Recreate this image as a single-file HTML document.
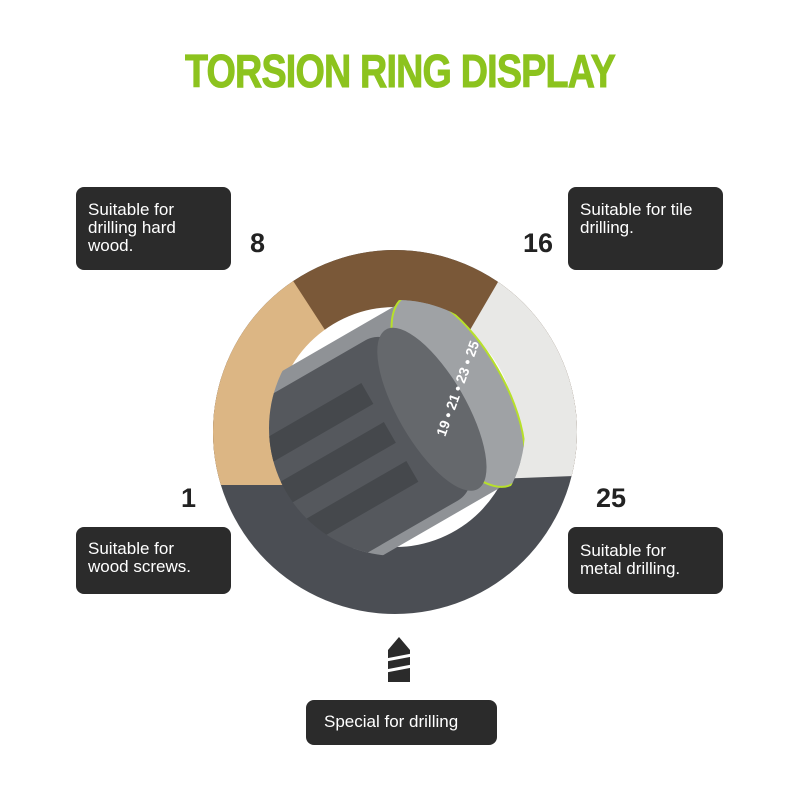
<!DOCTYPE html>
<html><head><style>
body{margin:0;width:800px;height:800px;background:#fff;position:relative;overflow:hidden;font-family:"Liberation Sans",sans-serif}
.t{position:absolute;left:0;width:800px;top:44px;text-align:center;color:#8cc31e;font-weight:bold;font-size:46px;letter-spacing:-1px;transform:scaleX(0.82);-webkit-text-stroke:1px #8cc31e}
.b{position:absolute;background:#2b2b2b;border-radius:8px;color:#fff;font-size:17px;line-height:18px;padding:14px 12px;box-sizing:border-box}
.n{position:absolute;font-size:27px;font-weight:bold;color:#222}
</style></head><body>
<div class="t">TORSION RING DISPLAY</div>
<div class="b" style="left:76px;top:187px;width:155px;height:83px">Suitable for<br>drilling hard<br>wood.</div>
<div class="b" style="left:568px;top:187px;width:155px;height:83px">Suitable for tile<br>drilling.</div>
<div class="b" style="left:76px;top:527px;width:155px;height:67px;padding-top:13px">Suitable for<br>wood screws.</div>
<div class="b" style="left:568px;top:527px;width:155px;height:67px;padding-top:15px">Suitable for<br>metal drilling.</div>
<div class="b" style="left:306px;top:700px;width:191px;height:45px;padding-top:13px;padding-left:18px">Special for drilling</div>
<div class="n" style="left:250px;top:228px">8</div>
<div class="n" style="left:523px;top:228px">16</div>
<div class="n" style="left:181px;top:483px">1</div>
<div class="n" style="left:596px;top:483px">25</div>
<svg width="800" height="800" style="position:absolute;left:0;top:0">
<defs><clipPath id="c"><circle cx="395" cy="432" r="182"/></clipPath>
<clipPath id="d"><circle cx="397" cy="428" r="128"/></clipPath></defs>
<g clip-path="url(#c)">
<rect x="200" y="240" width="400" height="400" fill="#4b4e54"/>
<polygon points="200,240 600,240 600,475 200,485" fill="#7a5838"/>
<polygon points="200,270 286,270 325,330 330,485 200,485" fill="#dcb684"/>
<polygon points="505,270 600,270 600,475 470,480 470,330" fill="#e8e8e6"/>
<circle cx="395" cy="427" r="120" fill="#fff"/>
</g>
<g clip-path="url(#d)">
<g transform="rotate(-30 400 430)">
<rect x="300" y="320" width="190" height="210" rx="20" fill="#8f9296"/>
<ellipse cx="470" cy="425" rx="45" ry="108" fill="#9fa2a5" stroke="#b7e02a" stroke-width="2"/>
<rect x="240" y="335" width="200" height="185" rx="25" fill="#55585d"/>
<ellipse cx="438" cy="428" rx="34" ry="92" fill="#65686c"/>
<rect x="270" y="370" width="120" height="24" fill="#45484c"/>
<rect x="270" y="415" width="120" height="24" fill="#45484c"/>
<rect x="270" y="460" width="120" height="24" fill="#45484c"/>
</g>
</g>
<text x="440" y="410" fill="#fff" font-size="14" font-weight="bold" font-family="Liberation Sans" transform="rotate(-70 462 420)">19 • 21 • 23 • 25</text>
<polygon points="399,637 410,650 410,682 388,682 388,650" fill="#2b2b2b"/>
<line x1="386" y1="660" x2="412" y2="655" stroke="#fff" stroke-width="3"/>
<line x1="386" y1="671" x2="412" y2="666" stroke="#fff" stroke-width="3"/>
</svg>
</body></html>
